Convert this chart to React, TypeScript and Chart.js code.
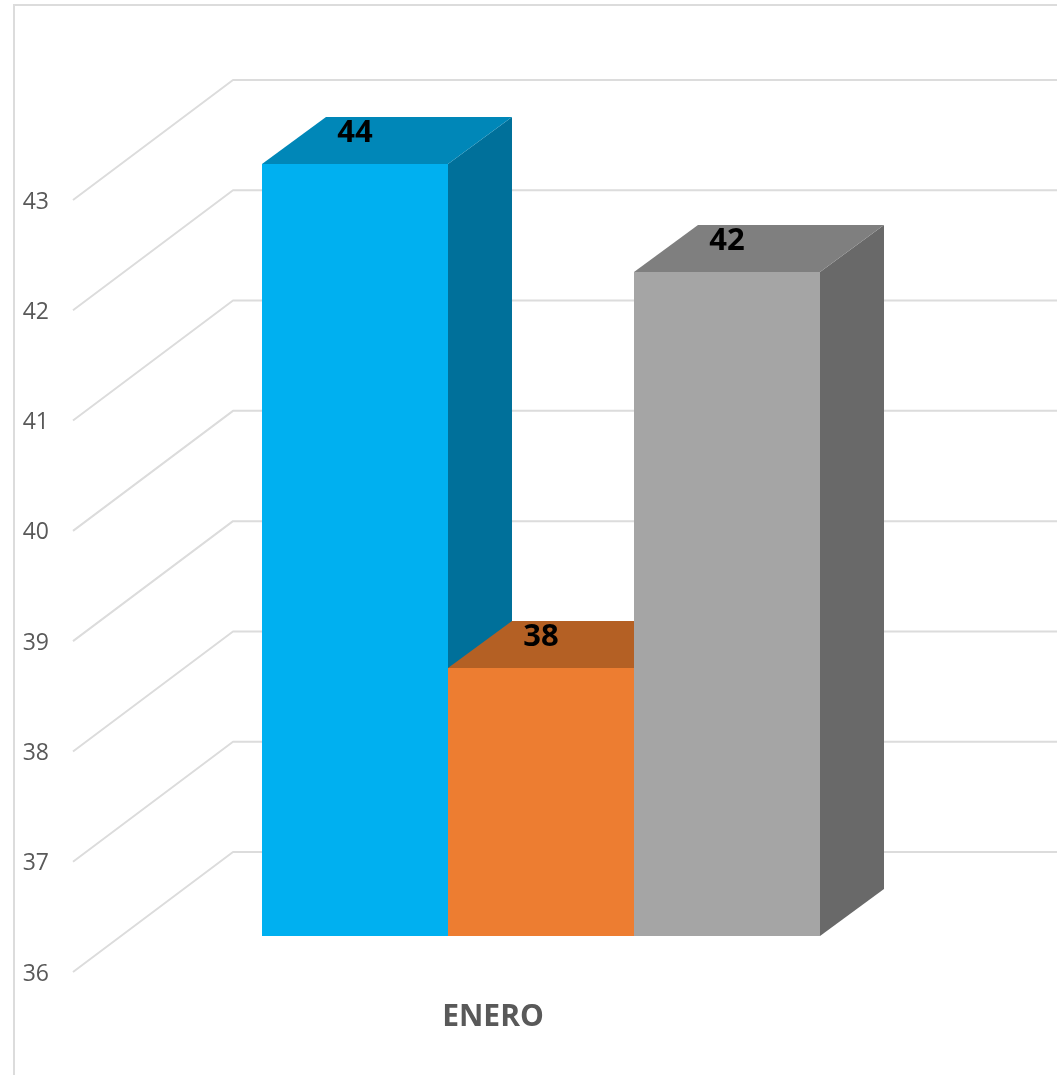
import React, { useEffect, useRef } from "react";
import { Chart, registerables } from "chart.js";

Chart.register(...registerables);

const categories = ["ENERO"];
const seriesNames = ["Serie 1", "Serie 2", "Serie 3"];
// Bar heights as drawn against the axis in the picture
const drawnHeights = [43, 38.43, 42.02];
// Values printed on top of the bars
const printedLabels = ["44", "38", "42"];
const yTicks = [36, 37, 38, 39, 40, 41, 42, 43];

const frontColors = ["#00B0F0", "#ED7D31", "#A5A5A5"];
const topColors = ["#0087B8", "#B46024", "#7F7F7F"];
const sideColors = ["#00709A", "#9D5320", "#696969"];

const W = 1057;
const H = 1075;
const FONT = "'Open Sans', sans-serif";

// Projection: the bars stand on a plane between the front edge and the back wall
const DEPTH_X = 64;
const DEPTH_Y = -47;
const FRONT_OFFSET = { x: -48, y: 36 };
const BACK_OFFSET = { x: 112, y: -84 };

const wallPlugin = {
  id: "wall",
  beforeDraw(chart: any) {
    const { ctx, scales, chartArea } = chart;
    ctx.save();
    ctx.strokeStyle = "#DCDCDC";
    ctx.lineWidth = 2;
    ctx.beginPath();
    ctx.moveTo(14, H);
    ctx.lineTo(14, 5);
    ctx.lineTo(W, 5);
    ctx.stroke();
    ctx.lineJoin = "round";
    for (const v of yTicks) {
      const py = scales.y.getPixelForValue(v);
      ctx.beginPath();
      ctx.moveTo(chartArea.left + FRONT_OFFSET.x, py + FRONT_OFFSET.y);
      ctx.lineTo(chartArea.left + BACK_OFFSET.x, py + BACK_OFFSET.y);
      ctx.lineTo(W, py + BACK_OFFSET.y);
      ctx.stroke();
    }
    ctx.restore();
  },
};

const poly = (ctx: any, pts: number[][], fill: string) => {
  ctx.fillStyle = fill;
  ctx.beginPath();
  pts.forEach(([x, y], i) => (i ? ctx.lineTo(x, y) : ctx.moveTo(x, y)));
  ctx.closePath();
  ctx.fill();
};

const barFacesPlugin = {
  id: "barFaces",
  beforeDatasetsDraw(chart: any) {
    const { ctx, scales } = chart;
    const b = scales.y.getPixelForValue(yTicks[0]);
    ctx.save();
    chart.data.datasets.forEach((_: any, i: number) => {
      const el = chart.getDatasetMeta(i).data[0];
      const l = el.x - el.width / 2;
      const r = el.x + el.width / 2;
      const t = el.y;
      poly(ctx, [[r, t], [r + DEPTH_X, t + DEPTH_Y], [r + DEPTH_X, b + DEPTH_Y], [r, b]], sideColors[i]);
      poly(ctx, [[l, t], [l + DEPTH_X, t + DEPTH_Y], [r + DEPTH_X, t + DEPTH_Y], [r, t]], topColors[i]);
    });
    ctx.restore();
  },
  afterDatasetsDraw(chart: any) {
    const { ctx } = chart;
    ctx.save();
    ctx.font = `bold 31px ${FONT}`;
    ctx.fillStyle = "#000000";
    ctx.textAlign = "center";
    ctx.textBaseline = "middle";
    chart.data.datasets.forEach((_: any, i: number) => {
      const el = chart.getDatasetMeta(i).data[0];
      ctx.fillText(printedLabels[i], el.x, el.y - 31);
    });
    ctx.restore();
  },
};

export default function App() {
  const ref = useRef<HTMLCanvasElement | null>(null);

  useEffect(() => {
    if (!ref.current) return;
    const chart = new Chart(ref.current, {
      type: "bar",
      data: {
        labels: categories,
        datasets: seriesNames.map((name, i) => ({
          label: name,
          data: [drawnHeights[i]],
          base: yTicks[0],
          backgroundColor: frontColors[i],
          borderWidth: 0,
          barPercentage: 1,
          categoryPercentage: 558 / 840,
        })),
      },
      options: {
        animation: false,
        responsive: false,
        devicePixelRatio: 1,
        layout: { padding: { top: 164, right: W - 961, left: 0, bottom: 0 } },
        plugins: { legend: { display: false }, tooltip: { enabled: false } },
        scales: {
          x: {
            grid: { display: false },
            border: { display: false },
            afterFit: (s: any) => {
              s.height = H - 936;
            },
            ticks: {
              color: "#595959",
              font: { family: FONT, size: 30, weight: "bold" },
              padding: 55,
              labelOffset: FRONT_OFFSET.x,
              maxRotation: 0,
            },
          },
          y: {
            min: 36,
            max: 43,
            grid: { display: false },
            border: { display: false },
            afterFit: (s: any) => {
              s.width = 121;
            },
            afterBuildTicks: (s: any) => {
              s.ticks = yTicks.map((value) => ({ value }));
            },
            ticks: {
              color: "#595959",
              font: { family: FONT, size: 23 },
              padding: 64,
              labelOffset: FRONT_OFFSET.y + 2,
            },
          },
        },
      },
      plugins: [wallPlugin, barFacesPlugin],
    } as any);
    return () => chart.destroy();
  }, []);

  return (
    <canvas
      ref={ref}
      width={W}
      height={H}
      style={{ position: "fixed", left: 0, top: 0, width: W, height: H, background: "#fff" }}
    />
  );
}
